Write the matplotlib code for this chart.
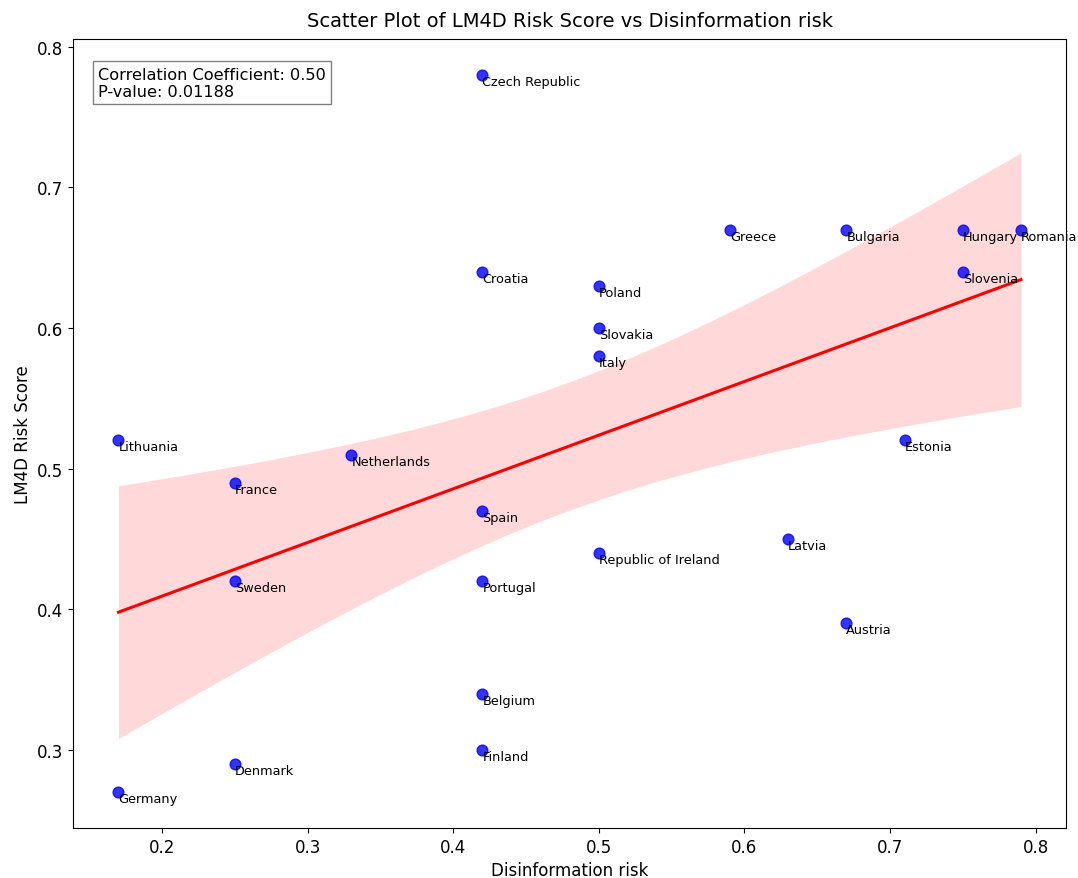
import numpy as np
import matplotlib
matplotlib.use('Agg')
import matplotlib.pyplot as plt

# ----------------------------------------------------------------------------------------------------------------------

countries = ['Czech Republic', 'Greece', 'Bulgaria', 'Hungary', 'Romania', 'Slovenia', 'Croatia', 'Poland',
             'Slovakia', 'Italy', 'Lithuania', 'Estonia', 'Netherlands', 'France', 'Spain', 'Latvia',
             'Republic of Ireland', 'Sweden', 'Portugal', 'Austria', 'Belgium', 'Finland', 'Denmark', 'Germany']
disinformation_risk = [0.42, 0.59, 0.67, 0.75, 0.79, 0.75, 0.42, 0.50,
                       0.50, 0.50, 0.17, 0.71, 0.33, 0.25, 0.42, 0.63,
                       0.50, 0.25, 0.42, 0.67, 0.42, 0.42, 0.25, 0.17]
lm4d_risk = [0.78, 0.67, 0.67, 0.67, 0.67, 0.64, 0.64, 0.63,
             0.60, 0.58, 0.52, 0.52, 0.51, 0.49, 0.47, 0.45,
             0.44, 0.42, 0.42, 0.39, 0.34, 0.30, 0.29, 0.27]
p_value = 0.01188

# ----------------------------------------------------------------------------------------------------------------------

def fit_with_ci(x, y, grid, t_crit=1.8):
    n = len(x)
    slope, intercept = np.polyfit(x, y, 1)
    resid = y - (slope * x + intercept)
    s = np.sqrt(np.sum(resid ** 2) / (n - 2))
    sxx = np.sum((x - x.mean()) ** 2)
    pred = slope * grid + intercept
    se = s * np.sqrt(1.0 / n + (grid - x.mean()) ** 2 / sxx)
    return pred, pred - t_crit * se, pred + t_crit * se


x = np.array(disinformation_risk)
y = np.array(lm4d_risk)
r = np.corrcoef(x, y)[0, 1]

fig = plt.figure(figsize=(10.78, 8.79), dpi=100)
ax = fig.add_subplot(111)
fig.subplots_adjust(left=0.068, right=0.989, top=0.9545, bottom=0.057)

grid = np.linspace(x.min(), x.max(), 100)
pred, lo, hi = fit_with_ci(x, y, grid)
ax.fill_between(grid, lo, hi, color='red', alpha=0.15, linewidth=0)
ax.plot(grid, pred, color='red', linewidth=2.2)

ax.scatter(x, y, color='blue', s=60, alpha=0.8, zorder=3)
for name, xi, yi in zip(countries, x, y):
    ax.text(xi, yi, name, fontsize=9.3, ha='left', va='top')

ax.text(0.025, 0.965, f'Correlation Coefficient: {r:.2f}\nP-value: {p_value:.5f}',
        transform=ax.transAxes, fontsize=11.6, va='top',
        bbox=dict(facecolor='white', alpha=0.5))

ax.set_title('Scatter Plot of LM4D Risk Score vs Disinformation risk', fontsize=14, pad=9)
ax.set_xlabel('Disinformation risk', fontsize=12)
ax.set_ylabel('LM4D Risk Score', fontsize=12)
ax.tick_params(labelsize=12)

fig.savefig('out.png', dpi=100)
